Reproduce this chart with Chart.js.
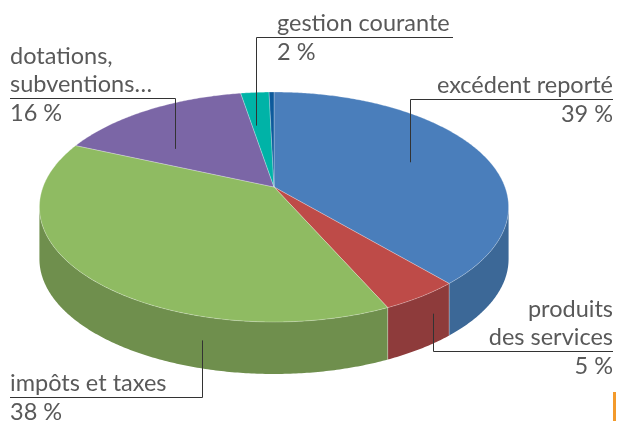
<!DOCTYPE html>
<html>
<head>
<meta charset="utf-8">
<script src="https://cdn.jsdelivr.net/npm/chart.js@4/dist/chart.umd.min.js"></script>
<style>
  html, body { margin: 0; background: #fff; }
  #wrap { position: relative; width: 617px; height: 421px; }
  #tick { position: absolute; left: 613px; top: 392px; width: 3px; height: 29px; background: #f39a2b; }
</style>
</head>
<body>
<div id="wrap">
  <canvas id="budget" width="617" height="421"></canvas>
  <div id="tick"></div>
</div>
<script>
// ── Data ─────────────────────────────────────────────────────────

const categories = [
    ['excédent reporté'],
    ['produits', 'des services'],
    ['impôts et taxes'],
    ['dotations,', 'subventions…'],
    ['gestion courante'],
    ['autres'],
];
const shares = [38.55, 4.65, 38.3, 15.8, 2.3, 0.4];
const topColors = ['#4a7ebb', '#be4b48', '#8fbb62', '#7b66a6', '#00b3a7', '#0d5a9c'];
const sideColors = ['#3c6897', '#8e3b3b', '#6f8f4d', '#5e4d82', '#008a80', '#0a4577'];

// ── 3D view (perspective tilt of the pie) ────────────────────────

const VIEW = { cx: 274, cy: 187, rx: 231, ry: 111.5, k: 0.174, depth: 52 };
const FRONT_A = Math.asin(VIEW.k);
const FRONT_B = Math.PI - FRONT_A;

// Label placement: where the leader starts inside the slice, and where the text sits
const labelLayout = [
    { idx: 0, at: 0.5,   r: 0.655, drop: 0,  align: 'right', textX: 613, lineY: 99,  lineEnd: 613 },
    { idx: 1, at: 0.3,   r: 1,     drop: 22, align: 'right', textX: 613, lineY: 351, lineEnd: 613 },
    { idx: 2, at: 0.287, r: 1,     drop: 24, align: 'left',  textX: 10,  lineY: 397, lineEnd: 10 },
    { idx: 3, at: 0.267, r: 0.583, drop: 0,  align: 'left',  textX: 10,  lineY: 98,  lineEnd: 10 },
    { idx: 4, at: 0.19,  r: 0.615, drop: 0,  align: 'left',  textX: 277, lineY: 37,  lineEnd: 453 },
];

// ── Projection helpers ───────────────────────────────────────────

function project(el, px, py) {
    const u = (px - el.x) / el.outerRadius;
    const v = (py - el.y) / el.outerRadius;
    const w = 1 - VIEW.k * v;
    return { x: VIEW.cx + VIEW.rx * u / w, y: VIEW.cy + VIEW.ry * v / w };
}

function rim(el, a, r = 1) {
    return project(el, el.x + Math.cos(a) * el.outerRadius * r, el.y + Math.sin(a) * el.outerRadius * r);
}

// Context wrapper: the arc element draws itself, we bend its path into perspective
function projectedContext(ctx, el) {
    const put = (op, x, y) => { const p = project(el, x, y); ctx[op](p.x, p.y); };
    return new Proxy(ctx, {
        get(t, prop) {
            if (prop === 'moveTo' || prop === 'lineTo') return (x, y) => put(prop, x, y);
            if (prop === 'arc') return (x, y, r, a0, a1, ccw) => {
                if (!(r > 0) || !isFinite(a0) || !isFinite(a1)) return put('lineTo', x, y);
                let span = a1 - a0;
                if (!ccw && span < 0) span += Math.PI * 2;
                if (ccw && span > 0) span -= Math.PI * 2;
                const n = Math.max(2, Math.ceil(Math.abs(span) / 0.01));
                for (let i = 0; i <= n; i++) {
                    const a = a0 + span * i / n;
                    put('lineTo', x + Math.cos(a) * r, y + Math.sin(a) * r);
                }
            };
            if (prop === 'translate') return () => {};
            const v = t[prop];
            return typeof v === 'function' ? v.bind(t) : v;
        },
        set(t, prop, value) { t[prop] = value; return true; },
    });
}

function drawWalls(ctx, arcs) {
    arcs.forEach((el, i) => {
        const a1 = Math.max(el.startAngle, FRONT_A);
        const a2 = Math.min(el.endAngle, FRONT_B);
        if (a2 <= a1) return;
        const n = Math.max(2, Math.ceil((a2 - a1) / 0.01));
        ctx.beginPath();
        for (let j = 0; j <= n; j++) {
            const p = rim(el, a1 + (a2 - a1) * j / n);
            ctx.lineTo(p.x, p.y);
        }
        for (let j = n; j >= 0; j--) {
            const p = rim(el, a1 + (a2 - a1) * j / n);
            ctx.lineTo(p.x, p.y + VIEW.depth);
        }
        ctx.closePath();
        ctx.fillStyle = sideColors[i];
        ctx.fill();
        // faint seam where two slices meet on the side
        if (a1 === el.startAngle) {
            const p = rim(el, a1);
            ctx.beginPath();
            ctx.moveTo(p.x, p.y);
            ctx.lineTo(p.x, p.y + VIEW.depth);
            ctx.strokeStyle = 'rgba(255,255,255,0.3)';
            ctx.lineWidth = 1;
            ctx.stroke();
        }
    });
}

function drawLabels(chart) {
    const ctx = chart.ctx;
    const arcs = chart.getDatasetMeta(0).data;
    const total = shares.reduce((a, b) => a + b, 0);
    ctx.save();
    ctx.font = '23.5px Lato';
    for (const L of labelLayout) {
        const el = arcs[L.idx];
        const a = el.startAngle + (el.endAngle - el.startAngle) * L.at;
        const p = rim(el, a, L.r);
        const ax = Math.round(p.x) + 0.5;
        const ay = p.y + L.drop;
        const ly = L.lineY + 0.5;

        ctx.strokeStyle = '#333';
        ctx.lineWidth = 1;
        ctx.beginPath();
        ctx.moveTo(ax, ay);
        ctx.lineTo(ax, ly);
        ctx.lineTo(L.lineEnd, ly);
        ctx.stroke();

        ctx.fillStyle = '#595959';
        ctx.textAlign = L.align;
        ctx.textBaseline = 'alphabetic';
        const lines = categories[L.idx];
        lines.forEach((t, j) => {
            ctx.fillText(t, L.textX, L.lineY - 6 - (lines.length - 1 - j) * 28);
        });
        ctx.fillText(Math.round(shares[L.idx] / total * 100) + ' %', L.textX, L.lineY + 23);
    }
    ctx.restore();
}

const pie3d = {
    id: 'pie3d',
    beforeDatasetsDraw(chart) {
        const ctx = chart.ctx;
        const arcs = chart.getDatasetMeta(0).data;
        drawWalls(ctx, arcs);
        arcs.forEach(el => el.draw(projectedContext(ctx, el)));
        return false;
    },
    afterDraw(chart) { drawLabels(chart); },
};

// ── Chart ────────────────────────────────────────────────────────

new Chart(document.getElementById('budget'), {
    type: 'pie',
    plugins: [pie3d],
    data: {
        labels: categories.map(l => l.join(' ')),
        datasets: [{
            data: shares,
            backgroundColor: topColors,
            borderColor: 'rgba(255,255,255,0.35)',
            borderWidth: 0.75,
        }],
    },
    options: {
        responsive: false,
        animation: false,
        events: [],
        plugins: {
            legend: { display: false },
            tooltip: { enabled: false },
        },
    },
});
</script>
</body>
</html>
